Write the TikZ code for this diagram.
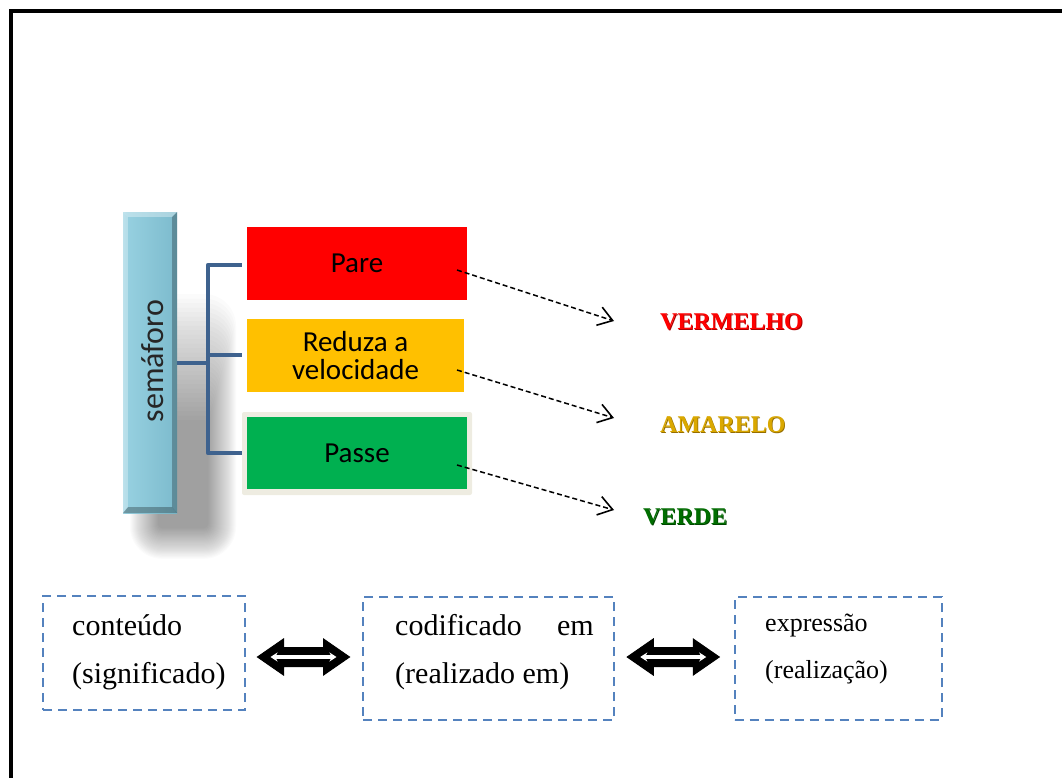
\documentclass[tikz,border=0pt]{standalone}
\usepackage{fontspec}
\setmainfont{Liberation Serif}
\newfontfamily\carlito{Carlito}
\usetikzlibrary{arrows.meta,calc}

\definecolor{barEdgeL}{RGB}{110,172,190}
\definecolor{barHi}{RGB}{200,238,246}
\definecolor{barMid}{RGB}{150,208,224}
\definecolor{barMid2}{RGB}{126,188,206}
\definecolor{barEdgeR}{RGB}{50,105,120}
\definecolor{stopRed}{RGB}{255,0,0}
\definecolor{slowAmber}{RGB}{255,192,0}
\definecolor{goGreen}{RGB}{0,176,80}
\definecolor{paleFrame}{RGB}{238,236,225}
\definecolor{bracketBlue}{RGB}{62,98,142}
\definecolor{dashBlue}{RGB}{84,130,190}
\definecolor{labelRed}{RGB}{255,0,0}
\definecolor{labelRedDk}{RGB}{170,0,0}
\definecolor{labelGold}{RGB}{218,168,0}
\definecolor{labelGoldDk}{RGB}{150,110,0}
\definecolor{labelGreen}{RGB}{0,110,0}
\definecolor{labelGreenDk}{RGB}{0,70,0}

\pgfdeclarehorizontalshading{barshade}{100bp}{%
  color(0bp)=(barEdgeL); color(8bp)=(barHi); color(14bp)=(barHi); color(28bp)=(barMid);
  color(72bp)=(barMid2); color(88bp)=(barEdgeL); color(100bp)=(barEdgeR)}

\begin{document}
\begin{tikzpicture}[x=1pt,y=-1pt,
  lightbox/.style={draw=none,minimum width=#1,minimum height=73pt,inner sep=0pt,
    font=\carlito\fontsize{29}{31}\selectfont,text=black,align=center},
  bracketline/.style={draw=bracketBlue,line width=4.8pt,line join=round},
  hintarrow/.style={draw=black,line width=1.5pt,dash pattern=on 5pt off 3pt,
    -{Straight Barb[length=14pt,width=19pt,line width=1.6pt]}},
  colourlabel/.style={anchor=west,inner sep=0pt,
    font=\fontsize{24}{26}\selectfont\bfseries},
  dashbox/.style={draw=dashBlue,line width=2pt,dash pattern=on 9pt off 6pt,
    inner sep=0pt,fill=none},
  boxtext/.style={anchor=base west,inner sep=0pt,font=\fontsize{30}{34}\selectfont},
  boxtextsmall/.style={anchor=base west,inner sep=0pt,font=\fontsize{26}{30}\selectfont},
  fatarrow/.style={fill=black,draw=black,line width=1pt,line join=miter},
  thinwhite/.style={draw=white,line width=3.2pt,
    {Stealth[length=7pt,width=9pt]}-{Stealth[length=7pt,width=9pt]}}
]
\useasboundingbox (0,0) rectangle (1062,778);

% outer frame (top and left edges)
\draw[line width=4pt,line join=miter] (11,778) -- (11,11) -- (1062,11);

% soft shadow behind the bar
\foreach \i in {0,...,28}{
  \pgfmathsetmacro\rr{\i+4}
  \fill[black,opacity=0.0145,rounded corners=\rr pt]
    ({158-\i},{420-4.5*\i}) rectangle ({208+\i},{528+1.1*\i});
}

% the bar
\node[minimum width=54pt,minimum height=301pt,inner sep=0pt,shading=barshade]
  (bar) at (150,362.5) {};
\fill[white,opacity=0.35] (bar.north west) -- (bar.north east)
  -- ([shift={(-5,5)}]bar.north east) -- ([shift={(5,5)}]bar.north west) -- cycle;
\fill[black,opacity=0.28] (bar.south west) -- (bar.south east)
  -- ([shift={(-5,-6)}]bar.south east) -- ([shift={(5,-6)}]bar.south west) -- cycle;
\fill[white,opacity=0.3] (bar.north west) -- (bar.south west)
  -- ([shift={(5,-6)}]bar.south west) -- ([shift={(5,5)}]bar.north west) -- cycle;
\fill[black,opacity=0.25] (bar.north east) -- (bar.south east)
  -- ([shift={(-5,-6)}]bar.south east) -- ([shift={(-5,5)}]bar.north east) -- cycle;
\node[rotate=90,inner sep=0pt,font=\carlito\fontsize{32}{36}\selectfont,text=black!85]
  (barlabel) at (153,361) {semáforo};

% the three signal boxes
\node[lightbox=220pt,fill=stopRed] (pare) at (357,263.5) {Pare};
\node[lightbox=217pt,fill=slowAmber] (reduza) at (355.5,355.5)
  {Reduza a\\[-3pt]velocidade};
\node[minimum width=230pt,minimum height=83pt,inner sep=0pt,fill=paleFrame,
  rounded corners=2pt] (passeframe) at (357,453.5) {};
\node[lightbox=220pt,minimum height=72pt,fill=goGreen] (passe) at (357,453) {Passe};

% bracket joining the bar to the boxes
\coordinate (hub) at (208,363);
\coordinate (j1) at (208,265);
\coordinate (j2) at (208,355);
\coordinate (j3) at (208,453);
\draw[bracketline] (hub -| bar.east) -- (hub);
\draw[bracketline] (j1 -| passeframe.west) -- (j1) -- (j3) -- (j3 -| passeframe.west);
\draw[bracketline] (j2) -- (j2 -| passeframe.west);

% colour names
\node[colourlabel,text=labelRedDk] at (660.8,322.8) {VERMELHO};
\node[colourlabel,text=labelRed] (vermelho) at (660,322) {VERMELHO};
\node[colourlabel,text=labelGoldDk] at (660.8,425.8) {AMARELO};
\node[colourlabel,text=labelGold] (amarelo) at (660,425) {AMARELO};
\node[colourlabel,text=labelGreenDk] at (643.8,517.8) {VERDE};
\node[colourlabel,text=labelGreen] (verde) at (643,517) {VERDE};

% dashed hints from each box towards its colour
\coordinate (s1) at (457,270);  \coordinate (e1) at (614,321);
\coordinate (s2) at (457,370);  \coordinate (e2) at (614,418);
\coordinate (s3) at (457,465);  \coordinate (e3) at (614,510);
\draw[hintarrow] (s1) -- (e1);
\draw[hintarrow] (s2) -- (e2);
\draw[hintarrow] (s3) -- (e3);

% bottom row of dashed boxes
\node[dashbox,minimum width=202pt,minimum height=114pt] (b1) at (144,653) {};
\node[dashbox,minimum width=251pt,minimum height=123pt] (b2) at (488.5,658.5) {};
\node[dashbox,minimum width=207pt,minimum height=123pt] (b3) at (838,658.5) {};

\node[boxtext] (t1a) at (72,635) {conteúdo};
\node[boxtext] (t1b) at (72,683) {(significado)};
\node[boxtext] (t2a) at (395,635) {codificado};
\node[boxtext,anchor=base east] (t2c) at (594,635) {em};
\node[boxtext] (t2b) at (395,683) {(realizado em)};
\node[boxtextsmall] (t3a) at (765,631) {expressão};
\node[boxtextsmall] (t3b) at (765,678) {(realização)};

% fat double arrows between the boxes
\coordinate (da1) at ($(b1.east |- 0,657)!0.5!(b2.west |- 0,657)+(-0.5,0)$);
\coordinate (da2) at ($(b2.east |- 0,657)!0.5!(b3.west |- 0,657)+(-1,0)$);
\foreach \c in {da1,da2}{
  \fill[fatarrow] (\c) ++(-46,0) -- ++(26,-18) -- ++(0,8.5) -- ++(40,0) -- ++(0,-8.5)
    -- ++(26,18) -- ++(-26,18) -- ++(0,-8.5) -- ++(-40,0) -- ++(0,8.5) -- cycle;
  \draw[thinwhite] ([xshift=-33pt]\c) -- ([xshift=33pt]\c);
}
\end{tikzpicture}
\end{document}
